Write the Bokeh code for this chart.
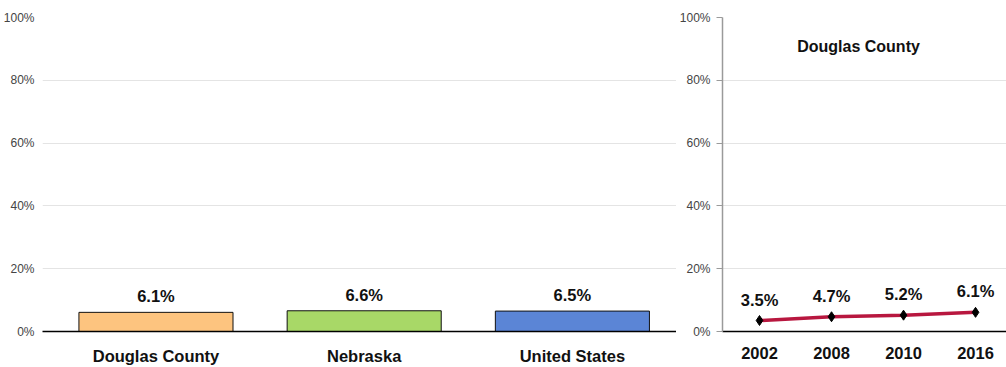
from bokeh.plotting import figure
from bokeh.layouts import row
from bokeh.models import Range1d, FixedTicker, ColumnDataSource, Label
from bokeh.core.properties import value
from bokeh.embed import file_html
from bokeh.resources import INLINE

# ---- data ----
regions = ["Douglas County", "Nebraska", "United States"]
region_values = [6.1, 6.6, 6.5]
region_colors = ["#FDC47F", "#A8D867", "#5B85D6"]

years = ["2002", "2008", "2010", "2016"]
trend_values = [3.5, 4.7, 5.2, 6.1]
trend_title = "Douglas County"

y_ticks = [0, 20, 40, 60, 80, 100]

FONT_B = "Liberation Sans"
FONT_R = "Liberation Sans"

def pct(v):
    return f"{v:.1f}%"

# ---- left bar chart ----
xs = list(range(len(regions)))
src = ColumnDataSource(dict(x=xs, top=region_values, color=region_colors,
                            label=[pct(v) for v in region_values]))

p1 = figure(width=676, height=367, output_backend="svg", toolbar_location=None,
            x_range=Range1d(-0.545, 2.5), y_range=Range1d(0, 100),
            min_border_left=38, min_border_right=0, min_border_top=17, min_border_bottom=36)
p1.vbar(x="x", top="top", width=0.74, fill_color="color", line_color="#111111",
        line_width=1, source=src)
p1.text(x="x", y="top", text="label", source=src, text_align="center",
        text_baseline="alphabetic", y_offset=-16, text_font=value(FONT_B),
        text_font_style="bold", text_font_size="16.5px", text_color="#111111")

p1.xaxis.ticker = FixedTicker(ticks=xs)
p1.xaxis.major_label_overrides = {i: r for i, r in enumerate(regions)}
p1.xaxis.major_tick_line_color = None
p1.xaxis.minor_tick_line_color = None
p1.xaxis.axis_line_color = "#000000"
p1.xaxis.axis_line_width = 1.5
p1.xaxis.major_label_standoff = 9
p1.xaxis.major_label_text_font = FONT_B
p1.xaxis.major_label_text_font_style = "bold"
p1.xaxis.major_label_text_font_size = "16.5px"
p1.xaxis.major_label_text_color = "#111111"

p1.yaxis.ticker = FixedTicker(ticks=y_ticks)
p1.yaxis.major_label_overrides = {t: f"{t}%" for t in y_ticks}
p1.yaxis.axis_line_color = None
p1.yaxis.major_tick_line_color = None
p1.yaxis.minor_tick_line_color = None
p1.yaxis.major_label_standoff = 2
p1.yaxis.major_label_text_font = FONT_R
p1.yaxis.major_label_text_font_size = "12px"
p1.yaxis.major_label_text_color = "#444444"

p1.xgrid.grid_line_color = None
p1.ygrid.grid_line_color = "#e4e4e4"
p1.outline_line_color = None

# ---- right line chart ----
xi = list(range(len(years)))
src2 = ColumnDataSource(dict(x=xi, y=trend_values, label=[pct(v) for v in trend_values]))

p2 = figure(width=330, height=367, output_backend="svg", toolbar_location=None,
            x_range=Range1d(-0.514, 3.43), y_range=Range1d(0, 100),
            min_border_left=46, min_border_right=0, min_border_top=17, min_border_bottom=36)
p2.line(x="x", y="y", source=src2, line_color="#B8173F", line_width=3.5)
p2.scatter(x="x", y="y", source=src2, marker="diamond", size=10,
           fill_color="#000000", line_color="#000000")
p2.text(x="x", y="y", text="label", source=src2, text_align="center",
        text_baseline="alphabetic", y_offset=-21, text_font=value(FONT_B),
        text_font_style="bold", text_font_size="16.5px", text_color="#111111")
p2.add_layout(Label(x=1.375, y=90.8, text=trend_title, text_align="center",
                    text_baseline="middle", text_font=FONT_B, text_font_style="bold",
                    text_font_size="16px", text_color="#111111"))

p2.xaxis.ticker = FixedTicker(ticks=xi)
p2.xaxis.major_label_overrides = {i: y for i, y in enumerate(years)}
p2.xaxis.major_tick_line_color = None
p2.xaxis.minor_tick_line_color = None
p2.xaxis.axis_line_color = "#000000"
p2.xaxis.axis_line_width = 1.5
p2.xaxis.major_label_standoff = 9
p2.xaxis.major_label_text_font = FONT_B
p2.xaxis.major_label_text_font_style = "bold"
p2.xaxis.major_label_text_font_size = "16.5px"
p2.xaxis.major_label_text_color = "#111111"

p2.yaxis.ticker = FixedTicker(ticks=y_ticks)
p2.yaxis.major_label_overrides = {t: f"{t}%" for t in y_ticks}
p2.yaxis.axis_line_color = "#9a9a9a"
p2.yaxis.axis_line_width = 1.5
p2.yaxis.major_tick_line_color = "#9a9a9a"
p2.yaxis.major_tick_out = 6
p2.yaxis.major_tick_in = 0
p2.yaxis.minor_tick_line_color = None
p2.yaxis.major_label_standoff = 6
p2.yaxis.major_label_text_font = FONT_R
p2.yaxis.major_label_text_font_size = "12px"
p2.yaxis.major_label_text_color = "#444444"

p2.xgrid.grid_line_color = None
p2.ygrid.grid_line_color = "#e4e4e4"
p2.outline_line_color = None

layout = row(p1, p2, spacing=0)
open("out.html", "w").write(file_html(layout, INLINE))
